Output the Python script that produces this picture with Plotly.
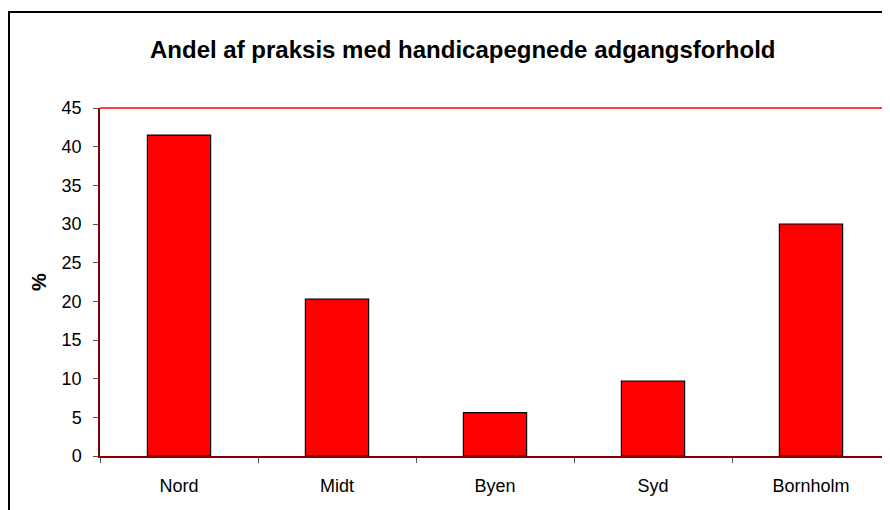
import plotly.graph_objects as go

categories = ["Nord", "Midt", "Byen", "Syd", "Bornholm"]
values = [41.5, 20.3, 5.6, 9.7, 30.0]
y_ticks = [0, 5, 10, 15, 20, 25, 30, 35, 40, 45]

title_text = "Andel af praksis med handicapegnede adgangsforhold"
y_title = "%"

fig = go.Figure(
    go.Bar(
        x=categories,
        y=values,
        marker=dict(color="#FF0000", line=dict(color="#000000", width=1.2)),
        width=0.4,
    )
)

font_family = "Liberation Sans, Arial, sans-serif"

# page body has an 8px margin, so figure coords = screen coords - 8
L, R, T, B = 92, 8, 100, 62
PW = 890 - L - R
PH = 510 - T - B

fig.update_layout(
    width=890,
    height=510,
    margin=dict(l=L, r=R, t=T, b=B),
    paper_bgcolor="white",
    plot_bgcolor="white",
    showlegend=False,
    font=dict(family=font_family, size=18, color="black"),
    annotations=[
        dict(
            text="<b>" + title_text + "</b>",
            xref="paper", yref="paper",
            x=(462 - 8 - L) / PW, y=(T + PH - (49 - 8)) / PH,
            xanchor="center", yanchor="middle",
            showarrow=False,
            font=dict(size=24, family=font_family, color="black"),
        )
    ],
    shapes=[
        # outer chart border
        dict(type="rect", xref="paper", yref="paper",
             x0=(1 - L) / PW, x1=1.2, y0=-0.5, y1=(T + PH - 4) / PH,
             line=dict(color="black", width=2), fillcolor="rgba(0,0,0,0)", layer="below"),
        # top of plot area (red)
        dict(type="line", xref="paper", yref="paper",
             x0=0, x1=1.05, y0=1, y1=1,
             line=dict(color="#FF0000", width=1.5)),
    ],
)

fig.update_xaxes(
    type="category",
    showline=True, linecolor="#800000", linewidth=1.5,
    ticks="outside", tickson="boundaries", ticklen=5, tickcolor="#555555", tickwidth=1,
    showgrid=False,
    tickfont=dict(size=18, family=font_family, color="black"),
    ticklabelstandoff=13,
)

fig.update_yaxes(
    range=[0, 45],
    tickvals=y_ticks,
    showline=True, linecolor="#800000", linewidth=1.5,
    ticks="outside", ticklen=5, tickcolor="#555555", tickwidth=1,
    showgrid=False, zeroline=False,
    tickfont=dict(size=18, family=font_family, color="black"),
    ticklabelstandoff=8,
    title=dict(text="<b>" + y_title + "</b>", font=dict(size=20, family=font_family), standoff=10),
)

fig.write_html("out.html")
